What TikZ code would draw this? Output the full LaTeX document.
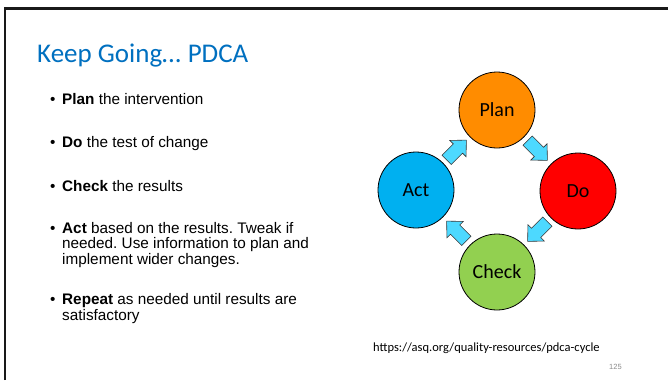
\documentclass[tikz,border=0pt]{standalone}
\usepackage{fontspec}
\setmainfont{Liberation Sans}
\newfontfamily\calib{Carlito}
\usetikzlibrary{calc}
\frenchspacing
\definecolor{titleblue}{HTML}{0070C0}
\definecolor{planorange}{HTML}{FF8C00}
\definecolor{dored}{HTML}{FF0000}
\definecolor{checkgreen}{HTML}{92D050}
\definecolor{actblue}{HTML}{00B0F0}
\definecolor{arrowcyan}{HTML}{4DD9FF}
\definecolor{pagegray}{HTML}{8C8C8C}
\tikzset{
  stage/.style={circle,draw=black,line width=0.8pt,minimum size=76pt,inner sep=0pt,
    font=\calib\fontsize{20}{24}\selectfont},
  bodytext/.style={anchor=base west,inner sep=0pt,font=\fontsize{15.3}{15.5}\selectfont},
  bulletmark/.style={anchor=base west,inner sep=0pt,font=\fontsize{15.3}{15.5}\selectfont},
  arrowbody/.style={fill=arrowcyan,draw=black!80,line width=0.6pt,line join=miter},
  blockarrow/.pic={\draw[arrowbody] (-14,-6.5) -- (2,-6.5) -- (2,-11.5) -- (14,0) -- (2,11.5) -- (2,6.5) -- (-14,6.5) -- cycle;}
}
\begin{document}
\begin{tikzpicture}[x=1pt,y=-1pt]
\useasboundingbox (0,0) rectangle (668,380);
\fill[white] (0,0) rectangle (668,380);
% slide frame (top and left edges)
\draw[line width=2.2pt,black!90] (5,380) -- (5,8.5) -- (668,8.5);
% title
\node[anchor=base west,inner sep=0pt,text=titleblue,font=\calib\fontsize{27}{30}\selectfont] (title) at (37,62) {Keep Going\kern-1pt... PDCA};
% bullets
\node[bulletmark] (b1) at (50,104) {•};
\node[bodytext] (t1) at (62,104) {\textbf{Plan} the intervention};
\node[bulletmark] (b2) at (50,147.5) {•};
\node[bodytext] (t2) at (62,147.5) {\textbf{Do} the test of change};
\node[bulletmark] (b3) at (50,191) {•};
\node[bodytext] (t3) at (62,191) {\textbf{Check} the results};
\node[bulletmark] (b4) at (50,233) {•};
\node[bodytext] (t4a) at (62,233) {\textbf{Act} based on the results. Tweak if};
\node[bodytext] (t4b) at (62,248.5) {needed. Use information to plan and};
\node[bodytext] (t4c) at (62,264) {implement wider changes.};
\node[bulletmark] (b5) at (50,304.5) {•};
\node[bodytext] (t5a) at (62,304.5) {\textbf{Repeat} as needed until results are};
\node[bodytext] (t5b) at (62,320) {satisfactory};
% cycle
\node[stage,fill=planorange] (plan) at (497,110) {Plan};
\node[stage,fill=dored] (do) at (578,191) {Do};
\node[stage,fill=checkgreen] (check) at (497,272) {Check};
\node[stage,fill=actblue] (act) at (416,190) {Act};
\path ($(plan)!0.5!(do)$) pic[rotate=-45] {blockarrow};
\path ($(do)!0.5!(check)$) pic[rotate=-135] {blockarrow};
\path ($(check)!0.5!(act)$) pic[rotate=135] {blockarrow};
\path ($(act)!0.5!(plan)$) pic[rotate=45] {blockarrow};
% source and page number
\node[anchor=base west,inner sep=0pt,font=\calib\fontsize{12.5}{14}\selectfont] (src) at (373,351) {https://asq.org/quality-resources/pdca-cycle};
\node[anchor=base west,inner sep=0pt,text=pagegray,font=\fontsize{7.5}{9}\selectfont] (pg) at (609,369) {125};
\end{tikzpicture}
\end{document}
